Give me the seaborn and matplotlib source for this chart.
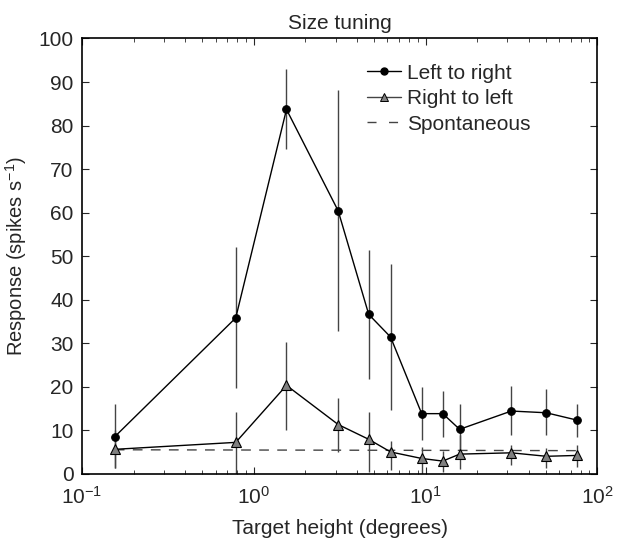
import numpy as np
import pandas as pd
import matplotlib
matplotlib.use("Agg")
import matplotlib.pyplot as plt
import seaborn as sns
from matplotlib.lines import Line2D

# ---- data ----
target_height = [0.155, 0.785, 1.55, 3.1, 4.67, 6.26, 9.5, 12.6, 15.8, 31.6, 50.5, 76.5]

ltr_mean = [8.5, 35.8, 83.7, 60.4, 36.6, 31.4, 13.8, 13.8, 10.2, 14.4, 14.0, 12.3]
ltr_low = [1.3, 19.7, 74.5, 32.8, 21.7, 14.6, 7.7, 8.5, 4.0, 8.8, 8.8, 8.5]
ltr_high = [16.0, 52.0, 92.9, 88.2, 51.4, 48.1, 20.0, 19.0, 16.0, 20.1, 19.4, 16.0]

rtl_mean = [5.6, 7.2, 20.3, 11.3, 7.9, 5.0, 3.5, 2.9, 4.5, 4.8, 4.0, 4.2]
rtl_low = [1.3, 0.0, 10.0, 5.0, 0.5, 0.9, -0.5, 0.4, 1.0, 2.0, 1.3, 1.5]
rtl_high = [10.0, 14.2, 30.2, 17.5, 14.2, 7.5, 6.2, 5.2, 9.0, 6.5, 5.8, 6.5]

spont_x = [0.155, 76.5]
spont_y = [5.5, 5.3]

x_ticks = [0.1, 1, 10, 100]
x_ticklabels = ["$10^{-1}$", "$10^{0}$", "$10^{1}$", "$10^{2}$"]
y_ticks = [0, 10, 20, 30, 40, 50, 60, 70, 80, 90, 100]

# ---- style ----
sns.set_style("ticks")
plt.rcParams["font.family"] = ["Liberation Sans", "DejaVu Sans"]
plt.rcParams["mathtext.fontset"] = "custom"
plt.rcParams["mathtext.rm"] = "Liberation Sans"
plt.rcParams["mathtext.it"] = "Liberation Sans"
plt.rcParams["font.size"] = 15

fig = plt.figure(figsize=(6.17, 5.42), dpi=100)
ax = fig.add_axes([0.133, 0.126, 0.835, 0.803])

df = pd.DataFrame({
    "x": target_height * 2,
    "y": ltr_mean + rtl_mean,
    "series": ["Left to right"] * len(target_height) + ["Right to left"] * len(target_height),
})

# error bars
ax.vlines(target_height, ltr_low, ltr_high, color="#444444", lw=1.0, zorder=1)
ax.vlines(target_height, rtl_low, rtl_high, color="#444444", lw=1.0, zorder=1)

# spontaneous
sns.lineplot(x=spont_x, y=spont_y, ax=ax, color="#444444", lw=1.0,
             linestyle=(0, (7, 6)), zorder=1, legend=False)

sns.lineplot(data=df[df.series == "Left to right"], x="x", y="y", ax=ax,
             color="black", lw=1.0, marker="o", markersize=5.5,
             markerfacecolor="black", markeredgecolor="black", zorder=3,
             legend=False, errorbar=None, sort=False)
sns.lineplot(data=df[df.series == "Right to left"], x="x", y="y", ax=ax,
             color="black", lw=1.0, marker="^", markersize=6.5,
             markerfacecolor="#808080", markeredgecolor="black", markeredgewidth=0.8,
             zorder=3, legend=False, errorbar=None, sort=False)

ax.set_xscale("log")
ax.set_xlim(0.1, 100)
ax.set_ylim(0, 100)
ax.set_xticks(x_ticks)
ax.set_xticklabels(x_ticklabels, fontsize=15)
ax.set_yticks(y_ticks)
ax.set_yticklabels([str(v) for v in y_ticks], fontsize=15)
ax.tick_params(which="both", direction="in", top=True, right=True)
ax.tick_params(which="major", length=5, width=0.8)
ax.tick_params(axis="x", which="major", pad=9)
ax.tick_params(axis="y", which="major", pad=6)
ax.tick_params(which="minor", length=3, width=0.6)
for s in ax.spines.values():
    s.set_linewidth(1.2)
    s.set_color("black")

ax.set_xlabel("Target height (degrees)", fontsize=15, labelpad=8)
ax.set_ylabel("Response (spikes s$^{-1}$)", fontsize=14.5, labelpad=7)
ax.set_title("Size tuning", fontsize=15, pad=7)

handles = [
    Line2D([], [], color="black", lw=1.0, marker="o", markersize=5,
           markerfacecolor="black"),
    Line2D([], [], color="#444444", lw=1.0, marker="^", markersize=6,
           markerfacecolor="#808080", markeredgecolor="black", markeredgewidth=0.7),
    Line2D([], [], color="#444444", lw=1.0, linestyle=(0, (6.5, 9))),
]
ax.legend(handles, ["Left to right", "Right to left", "Spontaneous"],
          loc="upper left", bbox_to_anchor=(0.553, 0.942), frameon=False,
          fontsize=15, handlelength=1.65, handletextpad=0.25, labelspacing=0.31,
          borderaxespad=0.0, borderpad=0.0)

fig.savefig("out.png", dpi=100)
